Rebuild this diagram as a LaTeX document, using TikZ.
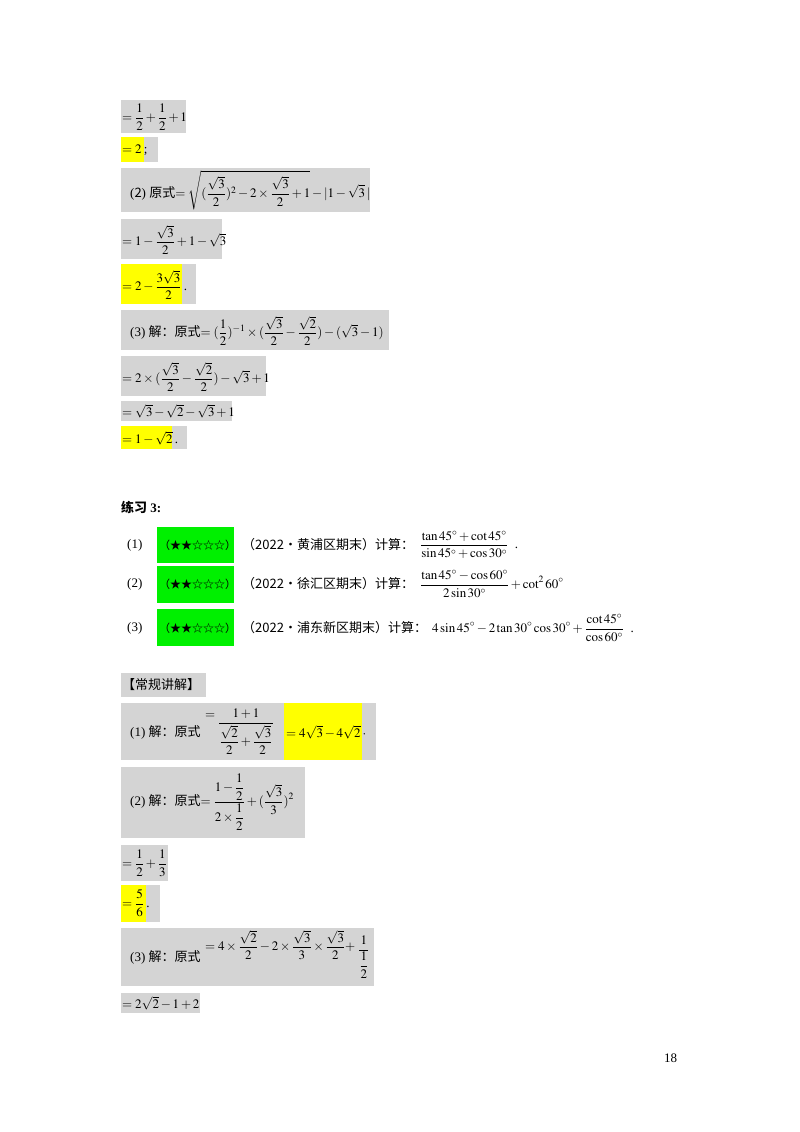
\documentclass[tikz,border=0pt]{standalone}
\usepackage{amsmath}
\usepackage{mathptmx}
\usepackage{fontspec}
\setmainfont{Liberation Serif}
\newfontfamily\cjk{Noto Sans CJK SC}
\definecolor{gbox}{RGB}{212,212,212}
\definecolor{ybox}{RGB}{255,255,0}
\definecolor{gr}{RGB}{0,240,0}
\newcommand\dm[1]{$\displaystyle #1$}
\begin{document}
\begin{tikzpicture}[x=1pt,y=-1pt,
  t/.style={anchor=west,inner sep=0pt,font=\fontsize{13}{15}\selectfont},
  st/.style={anchor=west,inner sep=0pt,font=\fontsize{11}{13}\selectfont\cjk},
  g/.style={fill=gbox,draw=none},
  yl/.style={fill=ybox,draw=none},
  gn/.style={fill=gr,draw=none}]
\useasboundingbox (0,0) rectangle (800,1132);
% top block
\fill[g] (121,100) rectangle (186,133);
\node[t] (a1) at (122,117) {\dm{=\frac12+\frac12+1}};
\fill[g] (121,137) rectangle (158,162);
\fill[yl] (121,137) rectangle (144,162);
\node[t] (a2) at (122,150) {$=2$\,;};
\fill[g] (121,168) rectangle (370,212);
\node[t] (a3) at (130,190) {({\cjk 2}) {\cjk 原式}\dm{=\sqrt{(\frac{\sqrt3}{2})^2-2\times\frac{\sqrt3}{2}+1}-|1-\sqrt3\,|}};
\fill[g] (121,219) rectangle (222,259);
\node[t] (a4) at (122,240) {\dm{=1-\frac{\sqrt3}{2}+1-\sqrt3}};
\fill[g] (121,264) rectangle (196,304);
\fill[yl] (121,264) rectangle (182,304);
\node[t] (a5) at (122,285) {\dm{=2-\frac{3\sqrt3}{2}}\,.};
\fill[g] (121,310) rectangle (389,350);
\node[t] (a6) at (130,331) {(3) {\cjk 解：原式}\dm{=(\frac12)^{-1}\times(\frac{\sqrt3}{2}-\frac{\sqrt2}{2})-(\sqrt3-1)}};
\fill[g] (121,356) rectangle (266,396);
\node[t] (a7) at (122,377) {\dm{=2\times(\frac{\sqrt3}{2}-\frac{\sqrt2}{2})-\sqrt3+1}};
\fill[g] (121,401) rectangle (232,421);
\node[t] (a8) at (122,411) {$=\sqrt3-\sqrt2-\sqrt3+1$};
\fill[g] (121,426) rectangle (187,449);
\fill[yl] (121,426) rectangle (172,449);
\node[t] (a9) at (122,438) {$=1-\sqrt2$\,.};
% exercise
\node[t] (lx) at (121,507) {\textbf{\cjk 练习}\textbf{ 3:}};
\fill[gn] (157,527) rectangle (234,563);
\fill[gn] (157,566) rectangle (234,603);
\fill[gn] (157,609) rectangle (234,646);
\node[t] (n1) at (127,545) {(1)};
\node[st] (s1) at (159,545) {（★★☆☆☆）};
\node[t] (q1) at (242,545) {\cjk （2022•黄浦区期末）计算：};
\node[t] (f1) at (420,545) {\dm{\frac{\tan45^\circ+\cot45^\circ}{\sin45^\circ+\cos30^\circ}}\ \ .};
\node[t] (n2) at (127,584) {(2)};
\node[st] (s2) at (159,584) {（★★☆☆☆）};
\node[t] (q2) at (242,584) {\cjk （2022•徐汇区期末）计算：};
\node[t] (f2) at (420,584) {\dm{\frac{\tan45^\circ-\cos60^\circ}{2\sin30^\circ}+\cot^2 60^\circ}};
\node[t] (n3) at (127,628) {(3)};
\node[st] (s3) at (159,628) {（★★☆☆☆）};
\node[t] (q3) at (242,628) {\cjk （2022•浦东新区期末）计算：};
\node[t] (f3) at (432,628) {\dm{4\sin45^\circ-2\tan30^\circ\cos30^\circ+\frac{\cot45^\circ}{\cos60^\circ}}\ \ .};
% solutions
\fill[g] (121,673) rectangle (206,697);
\node[t] (h) at (122,685) {\cjk 【常规讲解】};
\fill[g] (121,703) rectangle (376,760);
\fill[yl] (284,703) rectangle (362,760);
\node[t] (b1) at (130,732) {(1) {\cjk 解：原式}};
\node[t] (b1e) at (205,716) {$=$};
\node[t] (b1f) at (218,732) {\dm{\frac{1+1}{\dfrac{\sqrt2}{2}+\dfrac{\sqrt3}{2}}}};
\node[t] (b1r) at (286,732) {$=4\sqrt3-4\sqrt2$\,$\cdot$};
\fill[g] (121,767) rectangle (305,838);
\node[t] (b2) at (130,802) {(2) {\cjk 解：原式}\dm{=\frac{1-\dfrac12}{2\times\dfrac12}+(\frac{\sqrt3}{3})^2}};
\fill[g] (121,845) rectangle (168,881);
\node[t] (b3) at (122,863) {\dm{=\frac12+\frac13}};
\fill[g] (121,885) rectangle (160,922);
\fill[yl] (121,885) rectangle (146,922);
\node[t] (b4) at (122,903) {\dm{=\frac56}\,.};
\fill[g] (121,928) rectangle (374,986);
\node[t] (b5) at (130,957) {(3) {\cjk 解：原式}};
\node[t] (b5e) at (205,945) {\dm{=4\times\frac{\sqrt2}{2}-2\times\frac{\sqrt3}{3}\times\frac{\sqrt3}{2}+}};
\node[t] (b5f) at (358,957) {\dm{\frac{1}{\dfrac12}}};
\fill[g] (121,993) rectangle (200,1013);
\node[t] (b6) at (122,1003) {$=2\sqrt2-1+2$};
\node[t] (pg) at (664,1058) {18};
\end{tikzpicture}
\end{document}
